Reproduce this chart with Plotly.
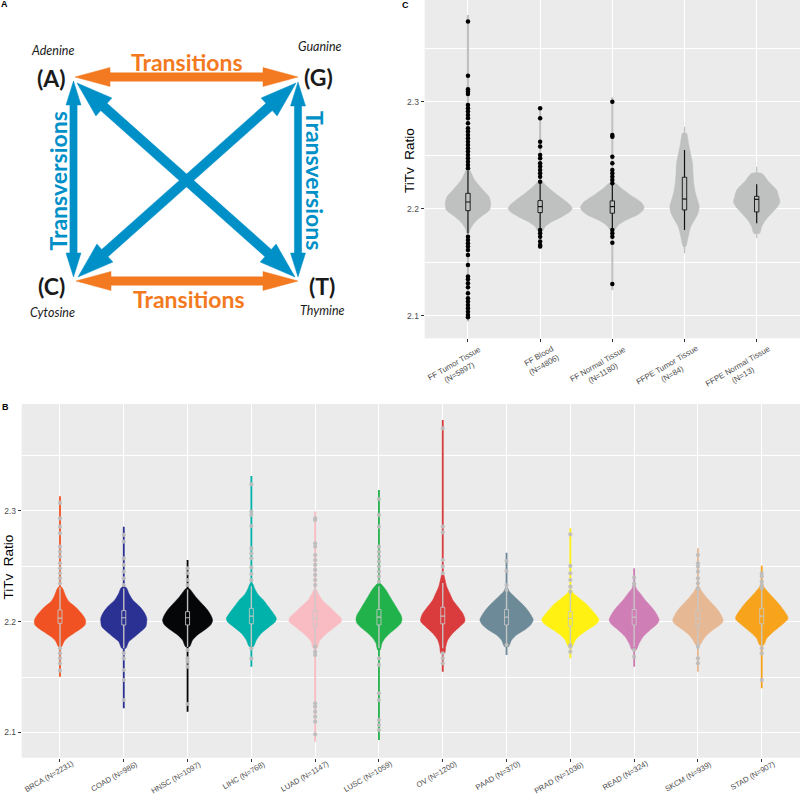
import math
import plotly.graph_objects as go

# ---------------- Panel B data (TCGA tumour types) ----------------
B_LABELS = ["BRCA (N=2231)", "COAD (N=986)", "HNSC (N=1097)", "LIHC (N=768)",
            "LUAD (N=1147)", "LUSC (N=1059)", "OV (N=1200)", "PAAD (N=370)",
            "PRAD (N=1036)", "READ (N=324)", "SKCM (N=939)", "STAD (N=907)"]
B_COLORS = ["#F05223", "#2B3192", "#050608", "#00B2A9", "#F8BCC2", "#21B24B",
            "#DA3B3D", "#6D8A98", "#FFF212", "#D07EB6", "#E6B894", "#F7A31C"]

# violin outline: TiTv values (ascending, first/last = tail ends) and density half-widths
B_PROFILE_VALUES = [
    [2.1503, 2.1774, 2.1819, 2.1858, 2.1895, 2.1931, 2.1970, 2.2009, 2.2045, 2.2090, 2.2136, 2.2181, 2.2226, 2.2271, 2.2301, 2.2316, 2.3133],
    [2.1217, 2.1759, 2.1819, 2.1864, 2.1910, 2.1955, 2.2000, 2.2030, 2.2075, 2.2136, 2.2196, 2.2256, 2.2301, 2.2316, 2.2858],
    [2.1187, 2.1774, 2.1834, 2.1880, 2.1925, 2.1970, 2.2009, 2.2045, 2.2105, 2.2166, 2.2226, 2.2286, 2.2301, 2.2557],
    [2.1593, 2.1774, 2.1834, 2.1895, 2.1955, 2.2000, 2.2030, 2.2075, 2.2136, 2.2196, 2.2241, 2.2286, 2.2331, 2.2346, 2.3316],
    [2.0916, 2.1759, 2.1819, 2.1864, 2.1910, 2.1955, 2.2000, 2.2030, 2.2075, 2.2136, 2.2196, 2.2256, 2.2286, 2.2994],
    [2.0931, 2.1744, 2.1804, 2.1849, 2.1895, 2.1940, 2.1985, 2.2021, 2.2060, 2.2105, 2.2166, 2.2226, 2.2286, 2.2331, 2.2346, 2.3190],
    [2.1548, 2.1714, 2.1774, 2.1834, 2.1895, 2.1955, 2.2000, 2.2030, 2.2075, 2.2136, 2.2196, 2.2256, 2.2316, 2.2391, 2.2420, 2.3822],
    [2.1699, 2.1774, 2.1834, 2.1880, 2.1925, 2.1970, 2.2015, 2.2051, 2.2105, 2.2166, 2.2226, 2.2271, 2.2301, 2.2623],
    [2.1669, 2.1774, 2.1834, 2.1880, 2.1925, 2.1979, 2.2015, 2.2045, 2.2090, 2.2151, 2.2211, 2.2256, 2.2286, 2.2843],
    [2.1593, 2.1744, 2.1804, 2.1864, 2.1925, 2.1979, 2.2015, 2.2075, 2.2136, 2.2196, 2.2256, 2.2301, 2.2331, 2.2482],
    [2.1548, 2.1789, 2.1834, 2.1880, 2.1925, 2.1970, 2.2009, 2.2045, 2.2105, 2.2166, 2.2226, 2.2286, 2.2316, 2.2662],
    [2.1398, 2.1789, 2.1849, 2.1895, 2.1940, 2.1985, 2.2021, 2.2045, 2.2090, 2.2151, 2.2211, 2.2271, 2.2316, 2.2331, 2.2506],
]
B_PROFILE_DENSITY = [
    [0.9, 1.5, 4, 8, 14, 20, 25, 25.7, 24, 20, 15, 9, 6, 4, 2.5, 1.2, 0.9],
    [0.9, 2, 5, 11, 17, 22, 23, 23, 21, 16, 9, 5, 3, 1.2, 0.9],
    [0.9, 2, 5, 10, 17, 23, 25, 24, 20, 14, 8, 3, 1.2, 0.9],
    [0.9, 2, 5, 10, 18, 24, 25, 22, 17, 12, 7, 4, 2, 1.2, 0.9],
    [0.9, 2, 4, 8, 14, 20, 26, 26, 21, 14, 7, 3, 1.5, 0.9],
    [0.9, 1.2, 3, 6, 11, 17, 22, 23, 22, 19, 15, 11, 7, 3, 1.2, 0.9],
    [0.9, 2, 3, 5, 10, 17, 22, 22, 20, 15, 10, 7, 4, 2, 1.2, 0.9],
    [0.9, 2, 5, 10, 18, 24, 26.7, 25, 21, 15, 8, 3, 1.2, 0.9],
    [0.9, 2, 5, 10, 17, 26, 28.7, 27, 23, 17, 9, 3, 1.2, 0.9],
    [0.9, 2, 5, 9, 16, 23, 25, 22, 17, 11, 6, 2, 1.2, 0.9],
    [0.9, 2, 5, 9, 15, 22, 25.3, 24, 20, 14, 8, 3, 1.2, 0.9],
    [0.9, 2, 5, 10, 16, 22, 26, 26, 23, 18, 12, 6, 2, 1.2, 0.9],
]
B_OUTLIERS = [
    [2.3072, 2.2933, 2.2858, 2.2798, 2.2678, 2.2632, 2.2587, 2.2527, 2.2482, 2.2437, 2.2391, 2.2346, 2.1759, 2.1714, 2.1669, 2.1624, 2.1557],
    [2.2783, 2.2723, 2.2572, 2.2512, 2.2452, 2.2391, 2.2331, 2.1714, 2.1669, 2.1563, 2.1473, 2.1292],
    [2.2482, 2.2437, 2.2376, 2.2331, 2.1744, 2.1669, 2.1639, 2.1593, 2.1256],
    [2.3241, 2.2994, 2.2964, 2.2864, 2.2662, 2.2617, 2.2572, 2.2491, 2.2431, 2.2376, 2.1759, 2.1666],
    [2.2933, 2.2918, 2.2708, 2.2678, 2.2602, 2.2557, 2.2512, 2.2467, 2.2422, 2.2376, 2.2331, 2.1774, 2.1729, 2.1699, 2.1262, 2.1232, 2.1187, 2.1142, 2.1097, 2.0982],
    [2.3108, 2.2964, 2.2858, 2.2678, 2.2632, 2.2587, 2.2542, 2.2497, 2.2452, 2.2407, 2.2361, 2.1669, 2.1609, 2.1353, 2.1292, 2.1112, 2.1067, 2.1021],
    [2.3746, 2.2858, 2.2807, 2.2557, 2.2497, 2.2437, 2.1714, 2.1669, 2.1624],
    [2.2548, 2.2458, 2.2331, 2.2286, 2.1789],
    [2.2789, 2.2503, 2.2437, 2.2376, 2.2316, 2.2271, 2.1789, 2.1774, 2.1729],
    [2.2397, 2.2346, 2.2331, 2.1744, 2.1684],
    [2.2602, 2.2527, 2.2497, 2.2452, 2.2391, 2.2346, 2.2301, 2.1774, 2.1669, 2.1624],
    [2.2437, 2.2407, 2.2361, 2.2331, 2.2301, 2.1759, 2.1714, 2.1473],
]
B_WHISK_LO = [2.177, 2.176, 2.177, 2.178, 2.175, 2.176, 2.176, 2.177, 2.176, 2.177, 2.175, 2.178]
B_Q1 = [2.1985, 2.197, 2.197, 2.198, 2.196, 2.197, 2.198, 2.197, 2.196, 2.197, 2.196, 2.198]
B_MEDIAN = [2.2031, 2.2035, 2.2035, 2.205, 2.203, 2.204, 2.205, 2.204, 2.203, 2.204, 2.203, 2.205]
B_Q3 = [2.2106, 2.210, 2.209, 2.212, 2.210, 2.211, 2.213, 2.211, 2.209, 2.211, 2.210, 2.212]
B_WHISK_HI = [2.231, 2.230, 2.229, 2.232, 2.231, 2.232, 2.235, 2.232, 2.229, 2.232, 2.231, 2.233]

# ---------------- Panel C data (sample types) ----------------
C_LABELS = ["FF Tumor Tissue<br>(N=5897)", "FF Blood<br>(N=4806)", "FF Normal Tissue<br>(N=1180)",
            "FFPE Tumor Tissue<br>(N=84)", "FFPE Normal Tissue<br>(N=13)"]
C_PROFILE_VALUES = [
    [2.0947, 2.1773, 2.1804, 2.1866, 2.1928, 2.1991, 2.2053, 2.2115, 2.2178, 2.2271, 2.2364, 2.2390, 2.3813],
    [2.1632, 2.1788, 2.1835, 2.1882, 2.1928, 2.1975, 2.2006, 2.2037, 2.2084, 2.2146, 2.2209, 2.2255, 2.2941],
    [2.1243, 2.1804, 2.1850, 2.1897, 2.1944, 2.1991, 2.2022, 2.2069, 2.2131, 2.2193, 2.2240, 2.3044],
    [2.1586, 2.1648, 2.1710, 2.1773, 2.1835, 2.1897, 2.1960, 2.2022, 2.2084, 2.2146, 2.2240, 2.2333, 2.2427, 2.2520, 2.2614, 2.2707, 2.2769],
    [2.1726, 2.1773, 2.1835, 2.1897, 2.1960, 2.2022, 2.2069, 2.2115, 2.2178, 2.2255, 2.2333, 2.2396],
]
C_PROFILE_DENSITY = [
    [1.1, 1.2, 2, 6, 13, 21.7, 22.7, 21, 15, 6.7, 2, 1.2, 1.1],
    [1, 2, 5, 12, 22, 30, 32, 30, 24, 15, 7, 2, 1],
    [1, 2, 6, 14, 25, 31, 31.7, 28, 18, 9, 3, 1],
    [0.3, 1.3, 3, 4.5, 6.3, 10, 13.5, 14.7, 13, 11, 9.3, 8.5, 8, 6, 4, 2, 0.4],
    [0.5, 3, 5, 9, 15, 21, 23.3, 22, 20, 12, 5, 0.5],
]
C_OUTLIERS = [
    [2.3751, 2.3246, 2.3118, 2.3097, 2.3075, 2.2972, 2.2941, 2.2910, 2.2879, 2.2847, 2.2801, 2.2754, 2.2723,
     2.2692, 2.2660, 2.2629, 2.2598, 2.2567, 2.2536, 2.2505, 2.2474, 2.2442, 2.2411, 2.2380,
     2.1741, 2.1710, 2.1679, 2.1648, 2.1617, 2.1570, 2.1477, 2.1368, 2.1343, 2.1305, 2.1268, 2.1212,
     2.1165, 2.1134, 2.1103, 2.1072, 2.1040, 2.1009, 2.0988],
    [2.2941, 2.2847, 2.2629, 2.2583, 2.2505, 2.2474, 2.2427, 2.2396, 2.2364, 2.2333, 2.2302, 2.2255,
     2.1804, 2.1773, 2.1741, 2.1695, 2.1664, 2.1648],
    [2.3003, 2.2692, 2.2676, 2.2489, 2.2427, 2.2364, 2.2333, 2.2302, 2.2271, 2.2240,
     2.1804, 2.1773, 2.1741, 2.1685, 2.1299],
    [],
    [],
]
C_WHISK_LO = [2.1773, 2.1804, 2.1804, 2.1804, 2.1866]
C_Q1 = [2.1984, 2.1966, 2.1960, 2.1991, 2.1972]
C_MEDIAN = [2.2065, 2.2022, 2.2022, 2.2093, 2.2090]
C_Q3 = [2.2146, 2.2078, 2.2075, 2.2296, 2.2118]
C_WHISK_HI = [2.2358, 2.2246, 2.2240, 2.2551, 2.2231]

Y_TICKS = [2.1, 2.2, 2.3]
Y_MINOR = [2.15, 2.25, 2.35]

# ---------------- Panel A (schematic) ----------------
A_BASES = [("(A)", "Adenine"), ("(G)", "Guanine"), ("(C)", "Cytosine"), ("(T)", "Thymine")]

# ---------------- figure geometry ----------------
W, H = 800, 795
B_PX_PER_CAT = 63.8
C_PX_PER_CAT = 72.25
B_BOX_HW = 2.0
C_BOX_HW = 2.2
C_TOP, C_BOTTOM = 0.0, 338.3
B_TOP, B_BOTTOM = 404.0, 757.7

fig = go.Figure()


def violin(fig, c, vals, dens, k, color, xa, ya):
    # thin tail line spanning the full range
    fig.add_trace(go.Scatter(x=[c, c], y=[vals[0], vals[-1]], mode="lines",
                             line=dict(color=color, width=max(1.2, 2 * dens[0])),
                             xaxis=xa, yaxis=ya, hoverinfo="skip", showlegend=False))
    bv, bd = vals[1:-1], dens[1:-1]
    xs = [c + d * k for d in bd] + [c - d * k for d in reversed(bd)] + [c + bd[0] * k]
    ys = list(bv) + list(reversed(bv)) + [bv[0]]
    fig.add_trace(go.Scatter(x=xs, y=ys, mode="lines", fill="toself", fillcolor=color,
                             line=dict(color=color, width=0.5, shape="spline", smoothing=0.7),
                             xaxis=xa, yaxis=ya, hoverinfo="skip", showlegend=False))


def boxplot(fig, c, wlo, q1, med, q3, whi, hw, color, fill, wcolor, xa, ya, lw):
    fig.add_trace(go.Scatter(x=[c, c, None, c, c], y=[wlo, q1, None, q3, whi], mode="lines",
                             line=dict(color=wcolor, width=lw), xaxis=xa, yaxis=ya,
                             hoverinfo="skip", showlegend=False))
    fig.add_trace(go.Scatter(x=[c - hw, c + hw, c + hw, c - hw, c - hw], y=[q1, q1, q3, q3, q1],
                             mode="lines", fill="toself" if fill else None, fillcolor=fill,
                             line=dict(color=color, width=0.9), xaxis=xa, yaxis=ya,
                             hoverinfo="skip", showlegend=False))
    fig.add_trace(go.Scatter(x=[c - hw, c + hw], y=[med, med], mode="lines",
                             line=dict(color=color, width=1.2), xaxis=xa, yaxis=ya,
                             hoverinfo="skip", showlegend=False))


# Panel B
kB = 1.0 / B_PX_PER_CAT
for i in range(len(B_LABELS)):
    c = i + 1
    violin(fig, c, B_PROFILE_VALUES[i], B_PROFILE_DENSITY[i], kB, B_COLORS[i], "x2", "y2")
    boxplot(fig, c, B_WHISK_LO[i], B_Q1[i], B_MEDIAN[i], B_Q3[i], B_WHISK_HI[i], B_BOX_HW * kB,
            "rgba(200,200,200,0.95)", None, "rgba(200,200,200,0.95)", "x2", "y2", 1.4)
    fig.add_trace(go.Scatter(x=[c] * len(B_OUTLIERS[i]), y=B_OUTLIERS[i], mode="markers",
                             marker=dict(color="rgba(190,190,190,0.95)", size=4.2),
                             xaxis="x2", yaxis="y2", hoverinfo="skip", showlegend=False))

# Panel C
kC = 1.0 / C_PX_PER_CAT
for i in range(len(C_LABELS)):
    c = i + 1
    violin(fig, c, C_PROFILE_VALUES[i], C_PROFILE_DENSITY[i], kC, "#BFC1C1", "x", "y")
    boxplot(fig, c, C_WHISK_LO[i], C_Q1[i], C_MEDIAN[i], C_Q3[i], C_WHISK_HI[i], C_BOX_HW * kC,
            "#111111", "#BFC1C1", "#111111", "x", "y", 1.2)
    if C_OUTLIERS[i]:
        fig.add_trace(go.Scatter(x=[c] * len(C_OUTLIERS[i]), y=C_OUTLIERS[i], mode="markers",
                                 marker=dict(color="black", size=4.5),
                                 xaxis="x", yaxis="y", hoverinfo="skip", showlegend=False))

# Panel A arrows (axis units = pixels of panel A)
ORANGE = "#F37A21"
BLUE = "#0090C8"
TIP_A, TIP_G, TIP_C, TIP_T = (75, 77), (298, 77), (75, 281), (298, 281)
ARROWS = [
    ((TIP_A[0], TIP_A[1]), (TIP_G[0], TIP_G[1]), ORANGE, 4.2, 9.5, 35),
    ((TIP_C[0] + 1, TIP_C[1]), (TIP_T[0], TIP_T[1]), ORANGE, 4.2, 9.5, 35),
    ((73.5, 81), (73.5, 277), BLUE, 3.6, 7.5, 24),
    ((298, 82), (298, 277), BLUE, 3.6, 7.5, 24),
    ((77, 83), (295, 277), BLUE, 4.8, 12, 36),
    ((296, 83), (78, 277), BLUE, 4.8, 12, 36),
]


def arrow_poly(p, q, w, hh, L):
    dx, dy = q[0] - p[0], q[1] - p[1]
    n = math.hypot(dx, dy)
    ux, uy = dx / n, dy / n
    nx, ny = -uy, ux
    pts = [
        (p[0], p[1]),
        (p[0] + L * ux + hh * nx, p[1] + L * uy + hh * ny),
        (p[0] + L * ux + w * nx, p[1] + L * uy + w * ny),
        (q[0] - L * ux + w * nx, q[1] - L * uy + w * ny),
        (q[0] - L * ux + hh * nx, q[1] - L * uy + hh * ny),
        (q[0], q[1]),
        (q[0] - L * ux - hh * nx, q[1] - L * uy - hh * ny),
        (q[0] - L * ux - w * nx, q[1] - L * uy - w * ny),
        (p[0] + L * ux - w * nx, p[1] + L * uy - w * ny),
        (p[0] + L * ux - hh * nx, p[1] + L * uy - hh * ny),
        (p[0], p[1]),
    ]
    return [a for a, b in pts], [b for a, b in pts]


for p, q, col, w, hh, L in ARROWS:
    xs, ys = arrow_poly(p, q, w, hh, L)
    fig.add_trace(go.Scatter(x=xs, y=ys, mode="lines", fill="toself", fillcolor=col,
                             line=dict(color=col, width=0.5), xaxis="x3", yaxis="y3",
                             hoverinfo="skip", showlegend=False))

ann = []
LBL_POS = [(51.7, 77.5), (318.5, 77), (51.7, 286), (321.5, 286)]
NAME_POS = [(52, 50.5), (319.5, 46.5), (52, 312.5), (322, 310)]
CTR = dict(xanchor="center", yanchor="middle", showarrow=False)
for (lbl, name), (lx, ly), (nx_, ny_) in zip(A_BASES, LBL_POS, NAME_POS):
    ann.append(dict(x=lx, y=ly, xref="x3", yref="y3", text="<b>" + lbl + "</b>",
                    font=dict(family="Lato", size=23, color="#1a1a1a"), **CTR))
    ann.append(dict(x=nx_, y=ny_, xref="x3", yref="y3", text="<i>" + name + "</i>",
                    font=dict(family="Lato", size=12.5, color="#1a1a1a"), **CTR))
ann.append(dict(x=187, y=62, xref="x3", yref="y3", text="<b>Transitions</b>",
                font=dict(family="Lato", size=23, color=ORANGE), **CTR))
ann.append(dict(x=188.5, y=299, xref="x3", yref="y3", text="<b>Transitions</b>",
                font=dict(family="Lato", size=23, color=ORANGE), **CTR))
ann.append(dict(x=57.5, y=181, xref="x3", yref="y3", text="<b>Transversions</b>",
                textangle=-90, font=dict(family="Lato", size=23, color=BLUE), **CTR))
ann.append(dict(x=315, y=180, xref="x3", yref="y3", text="<b>Transversions</b>",
                textangle=90, font=dict(family="Lato", size=23, color=BLUE), **CTR))

# panel letters
for t, px, py in [("A", 4, 4.5), ("B", 5, 407), ("C", 406, 5)]:
    ann.append(dict(x=px / W, y=1 - py / H, xref="paper", yref="paper", text="<b>" + t + "</b>",
                    font=dict(family="Liberation Sans", size=9, color="black"), **CTR))
# y axis titles
for px, py in [(410, 160), (7.5, 567)]:
    ann.append(dict(x=px / W, y=1 - py / H, xref="paper", yref="paper", text="TiTv\u00a0 Ratio",
                    textangle=-90, font=dict(family="Liberation Sans", size=13.5, color="black"), **CTR))

# rotated category labels (top-right corner hung just below the tick)
xlabfont = dict(family="Liberation Sans", size=7.6, color="#4D4D4D")
for i, lab in enumerate(B_LABELS):
    ann.append(dict(x=i + 1, y=1 - 756.5 / H, xref="x2", yref="paper", text=lab, textangle=-30,
                    xanchor="right", yanchor="top", xshift=18, showarrow=False, font=xlabfont))
for i, lab in enumerate(C_LABELS):
    ann.append(dict(x=i + 1, y=1 - 341.5 / H, xref="x", yref="paper", text=lab, textangle=-30,
                    xanchor="right", yanchor="top", xshift=23, align="center", showarrow=False,
                    font=dict(family="Liberation Sans", size=7.9, color="#4D4D4D")))

ytickfont = dict(family="Liberation Sans", size=8.5, color="#4D4D4D")
grid_common = dict(showgrid=True, gridcolor="white", gridwidth=1.1, zeroline=False, showline=False,
                   ticks="outside", ticklen=3, tickcolor="#333333", tickwidth=0.8)

fig.update_layout(
    width=W, height=H, margin=dict(l=0, r=0, t=0, b=0, autoexpand=False),
    paper_bgcolor="white", plot_bgcolor="#EBEBEB", showlegend=False,
    xaxis=dict(domain=[424.65 / W, 1.0], range=[0.4, 5.6], anchor="y",
               tickvals=list(range(1, 6)), showticklabels=False, **grid_common),
    yaxis=dict(domain=[1 - C_BOTTOM / H, 1 - C_TOP / H], range=[2.0791, 2.3953], anchor="x",
               tickvals=Y_TICKS, ticktext=[f"{v:.1f}" for v in Y_TICKS], tickfont=ytickfont,
               minor=dict(tickvals=Y_MINOR, showgrid=True, gridcolor="white", gridwidth=0.5, ticks=""),
               **grid_common),
    xaxis2=dict(domain=[21.7 / W, 1.0], range=[0.4, 12.6], anchor="y2",
                tickvals=list(range(1, 13)), showticklabels=False, **grid_common),
    yaxis2=dict(domain=[1 - B_BOTTOM / H, 1 - B_TOP / H], range=[2.0771, 2.3966], anchor="x2",
                tickvals=Y_TICKS, ticktext=[f"{v:.1f}" for v in Y_TICKS], tickfont=ytickfont,
                minor=dict(tickvals=Y_MINOR, showgrid=True, gridcolor="white", gridwidth=0.5, ticks=""),
                **grid_common),
    xaxis3=dict(domain=[0, 360 / W], range=[0, 360], visible=False, anchor="y3", fixedrange=True),
    yaxis3=dict(domain=[1 - 330 / H, 1], range=[330, 0], visible=False, anchor="x3", fixedrange=True),
    annotations=ann,
    shapes=[dict(type="rect", xref="x3 domain", yref="y3 domain", x0=0, x1=1, y0=0, y1=1,
                 fillcolor="white", line=dict(width=0), layer="below")],
)

fig.write_html("out.html", config={"displayModeBar": False},
               post_script="document.body.style.margin='0px';document.body.style.overflow='hidden';")
